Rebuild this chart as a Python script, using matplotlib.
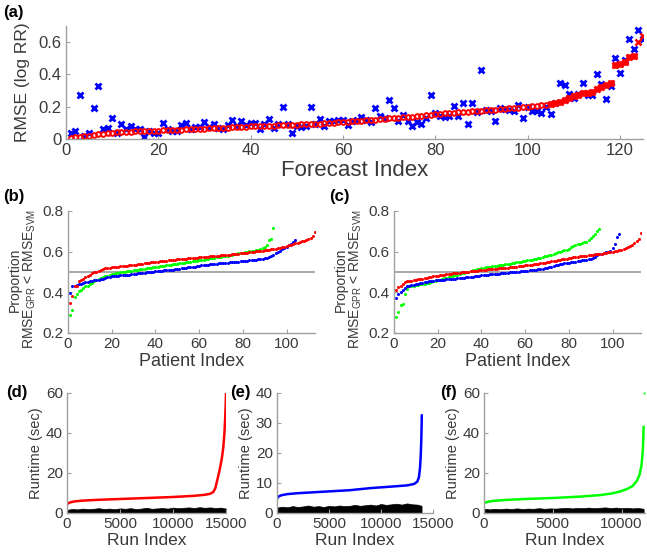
import matplotlib
matplotlib.use('Agg')
import matplotlib.pyplot as plt
import numpy as np

plt.rcParams['font.family'] = ['Liberation Sans', 'DejaVu Sans']
plt.rcParams['mathtext.default'] = 'regular'

# ---- panel (a): sorted RMSE per forecast ----
rmse_red = [0.005, 0.010, 0.013, 0.017, 0.020, 0.024, 0.028, 0.032, 0.036, 0.040,
            0.042, 0.044, 0.045, 0.046, 0.047, 0.048, 0.049, 0.050, 0.051, 0.052,
            0.054, 0.055, 0.056, 0.057, 0.058, 0.060, 0.061, 0.062, 0.063, 0.065,
            0.066, 0.067, 0.068, 0.069, 0.071, 0.072, 0.073, 0.074, 0.076, 0.078,
            0.079, 0.080, 0.081, 0.082, 0.083, 0.084, 0.085, 0.086, 0.088, 0.089,
            0.090, 0.091, 0.093, 0.094, 0.096, 0.097, 0.099, 0.101, 0.103, 0.105,
            0.107, 0.109, 0.111, 0.113, 0.115, 0.117, 0.120, 0.123, 0.126, 0.129,
            0.131, 0.133, 0.135, 0.137, 0.139, 0.141, 0.144, 0.147, 0.151, 0.155,
            0.157, 0.159, 0.161, 0.163, 0.166, 0.168, 0.170, 0.172, 0.174, 0.176,
            0.178, 0.180, 0.182, 0.184, 0.186, 0.189, 0.191, 0.194, 0.197, 0.200,
            0.203, 0.206, 0.209, 0.212, 0.216, 0.221, 0.228, 0.240, 0.255, 0.268,
            0.275, 0.282, 0.288, 0.293, 0.308, 0.320, 0.335, 0.345,
            0.460, 0.465, 0.475, 0.510, 0.515, 0.600, 0.635]
rmse_blue = [0.037, 0.050, 0.270, 0.020, 0.040, 0.190, 0.330, 0.060, 0.070, 0.130,
             0.040, 0.095, 0.060, 0.078, 0.060, 0.065, 0.010, 0.050, 0.035, 0.035,
             0.100, 0.060, 0.050, 0.050, 0.085, 0.100, 0.060, 0.075, 0.075, 0.105,
             0.075, 0.095, 0.070, 0.060, 0.085, 0.120, 0.080, 0.110, 0.085, 0.100,
             0.100, 0.065, 0.095, 0.125, 0.070, 0.090, 0.200, 0.090, 0.035, 0.080,
             0.075, 0.080, 0.200, 0.095, 0.125, 0.080, 0.110, 0.110, 0.115, 0.120,
             0.085, 0.110, 0.115, 0.135, 0.120, 0.105, 0.190, 0.140, 0.130, 0.240,
             0.195, 0.110, 0.150, 0.110, 0.080, 0.105, 0.095, 0.130, 0.270, 0.160,
             0.145, 0.135, 0.140, 0.205, 0.145, 0.220, 0.090, 0.220, 0.165, 0.430,
             0.180, 0.175, 0.110, 0.195, 0.185, 0.180, 0.175, 0.210, 0.130, 0.200,
             0.175, 0.175, 0.160, 0.200, 0.155, 0.220, 0.345, 0.335, 0.280, 0.255,
             0.280, 0.350, 0.270, 0.275, 0.400, 0.340, 0.250, 0.330, 0.500, 0.410,
             0.490, 0.620, 0.560, 0.675, 0.620]

# ---- panel (b) ----
b_red = [0.348, 0.384, 0.430, 0.432, 0.455, 0.462, 0.468, 0.475, 0.481, 0.487,
         0.493, 0.498, 0.502, 0.505, 0.510, 0.515, 0.518, 0.520, 0.522, 0.524,
         0.525, 0.526, 0.527, 0.528, 0.529, 0.530, 0.531, 0.532, 0.534, 0.535,
         0.536, 0.538, 0.539, 0.541, 0.542, 0.544, 0.545, 0.547, 0.548, 0.550,
         0.551, 0.552, 0.554, 0.555, 0.556, 0.557, 0.558, 0.559, 0.560, 0.562,
         0.563, 0.564, 0.565, 0.566, 0.567, 0.568, 0.569, 0.570, 0.571, 0.572,
         0.573, 0.574, 0.575, 0.576, 0.577, 0.578, 0.579, 0.580, 0.581, 0.582,
         0.583, 0.584, 0.585, 0.586, 0.587, 0.588, 0.589, 0.590, 0.591, 0.592,
         0.593, 0.595, 0.596, 0.598, 0.599, 0.601, 0.602, 0.604, 0.605, 0.607,
         0.608, 0.610, 0.611, 0.613, 0.615, 0.617, 0.620, 0.622, 0.625, 0.628,
         0.631, 0.635, 0.638, 0.641, 0.645, 0.648, 0.651, 0.654, 0.658, 0.662,
         0.666, 0.675, 0.695]
b_green = [0.290, 0.315, 0.377, 0.390, 0.405, 0.410, 0.420, 0.430, 0.432, 0.440,
           0.448, 0.455, 0.460, 0.465, 0.470, 0.474, 0.478, 0.482, 0.486, 0.490,
           0.492, 0.494, 0.496, 0.498, 0.500, 0.501, 0.503, 0.504, 0.506, 0.508,
           0.510, 0.511, 0.513, 0.515, 0.516, 0.518, 0.520, 0.521, 0.523, 0.525,
           0.526, 0.528, 0.529, 0.531, 0.532, 0.534, 0.535, 0.537, 0.538, 0.540,
           0.542, 0.544, 0.545, 0.547, 0.549, 0.551, 0.552, 0.554, 0.556, 0.558,
           0.560, 0.561, 0.563, 0.565, 0.567, 0.568, 0.570, 0.572, 0.573, 0.575,
           0.577, 0.579, 0.581, 0.583, 0.585, 0.587, 0.589, 0.591, 0.593, 0.595,
           0.597, 0.599, 0.601, 0.603, 0.605, 0.607, 0.609, 0.612, 0.618, 0.625,
           0.635, 0.655, 0.660, 0.715]
b_blue = [0.397, 0.430, 0.432, 0.435, 0.440, 0.443, 0.446, 0.449, 0.452, 0.455,
          0.457, 0.459, 0.461, 0.463, 0.465, 0.468, 0.470, 0.473, 0.476, 0.478,
          0.479, 0.480, 0.482, 0.483, 0.484, 0.485, 0.486, 0.487, 0.489, 0.490,
          0.491, 0.493, 0.494, 0.495, 0.496, 0.498, 0.499, 0.500, 0.502, 0.503,
          0.504, 0.505, 0.506, 0.508, 0.509, 0.510, 0.511, 0.512, 0.514, 0.515,
          0.517, 0.518, 0.520, 0.521, 0.523, 0.524, 0.526, 0.527, 0.529, 0.530,
          0.532, 0.533, 0.534, 0.535, 0.537, 0.538, 0.539, 0.540, 0.542, 0.543,
          0.544, 0.545, 0.546, 0.547, 0.548, 0.549, 0.550, 0.551, 0.552, 0.553,
          0.554, 0.556, 0.557, 0.558, 0.560, 0.561, 0.563, 0.564, 0.566, 0.568,
          0.570, 0.572, 0.578, 0.585, 0.595, 0.600, 0.605, 0.612, 0.618, 0.625,
          0.632, 0.640, 0.648, 0.655]

# ---- panel (c) ----
c_red = [0.410, 0.425, 0.430, 0.440, 0.450, 0.455, 0.457, 0.458, 0.460, 0.462,
         0.464, 0.466, 0.468, 0.470, 0.472, 0.474, 0.476, 0.478, 0.480, 0.482,
         0.484, 0.485, 0.487, 0.488, 0.490, 0.491, 0.493, 0.494, 0.496, 0.497,
         0.498, 0.499, 0.501, 0.502, 0.503, 0.504, 0.505, 0.507, 0.508, 0.510,
         0.511, 0.512, 0.513, 0.514, 0.515, 0.516, 0.517, 0.518, 0.519, 0.520,
         0.521, 0.522, 0.524, 0.525, 0.526, 0.527, 0.528, 0.529, 0.531, 0.532,
         0.533, 0.535, 0.536, 0.537, 0.539, 0.540, 0.542, 0.544, 0.546, 0.548,
         0.550, 0.552, 0.554, 0.556, 0.558, 0.560, 0.562, 0.564, 0.566, 0.568,
         0.570, 0.572, 0.573, 0.575, 0.577, 0.578, 0.580, 0.581, 0.583, 0.585,
         0.586, 0.587, 0.588, 0.589, 0.590, 0.592, 0.594, 0.596, 0.598, 0.600,
         0.602, 0.604, 0.606, 0.608, 0.612, 0.617, 0.622, 0.628, 0.635, 0.645,
         0.652, 0.660, 0.690]
c_green = [0.280, 0.305, 0.340, 0.342, 0.390, 0.415, 0.430, 0.432, 0.433, 0.435,
           0.437, 0.439, 0.441, 0.443, 0.445, 0.448, 0.451, 0.454, 0.457, 0.460,
           0.463, 0.466, 0.469, 0.472, 0.475, 0.478, 0.481, 0.484, 0.487, 0.490,
           0.493, 0.496, 0.499, 0.502, 0.505, 0.508, 0.511, 0.514, 0.517, 0.520,
           0.522, 0.523, 0.525, 0.526, 0.528, 0.529, 0.530, 0.532, 0.533, 0.535,
           0.537, 0.539, 0.541, 0.543, 0.545, 0.547, 0.549, 0.551, 0.553, 0.555,
           0.557, 0.559, 0.561, 0.563, 0.565, 0.567, 0.570, 0.573, 0.577, 0.580,
           0.583, 0.586, 0.590, 0.593, 0.597, 0.600, 0.603, 0.606, 0.610, 0.615,
           0.622, 0.630, 0.633, 0.636, 0.640, 0.643, 0.646, 0.650, 0.658, 0.665,
           0.675, 0.688, 0.700, 0.710]
c_blue = [0.370, 0.390, 0.400, 0.410, 0.420, 0.430, 0.433, 0.435, 0.438, 0.440,
          0.442, 0.445, 0.447, 0.450, 0.452, 0.454, 0.456, 0.457, 0.459, 0.460,
          0.461, 0.462, 0.463, 0.464, 0.465, 0.466, 0.467, 0.468, 0.469, 0.470,
          0.471, 0.472, 0.474, 0.475, 0.476, 0.477, 0.479, 0.480, 0.481, 0.483,
          0.484, 0.485, 0.486, 0.488, 0.489, 0.490, 0.491, 0.492, 0.494, 0.495,
          0.496, 0.497, 0.498, 0.499, 0.500, 0.501, 0.502, 0.503, 0.504, 0.505,
          0.507, 0.508, 0.510, 0.511, 0.512, 0.514, 0.515, 0.516, 0.518, 0.520,
          0.523, 0.527, 0.531, 0.534, 0.536, 0.538, 0.540, 0.542, 0.543, 0.545,
          0.547, 0.549, 0.551, 0.553, 0.555, 0.557, 0.559, 0.561, 0.563, 0.566,
          0.570, 0.575, 0.583, 0.588, 0.590, 0.592, 0.596, 0.600, 0.605, 0.618,
          0.640, 0.672, 0.685]

# ---- panels (d)-(f): sorted runtimes ----
d_run = [0, 100, 300, 700, 1500, 3000, 5000, 7500, 10000, 12000, 13000, 13500,
         13800, 14000, 14200, 14400, 14600, 14750, 14850, 14920, 14970, 15000]
d_rt = [4.3, 4.8, 5.3, 5.8, 6.2, 6.6, 7.0, 7.5, 8.0, 8.6, 9.1, 9.6,
        10.5, 12.5, 17, 21.5, 27, 33, 40, 47, 54, 60]
e_run = [0, 100, 400, 1000, 2000, 3500, 5000, 7000, 9000, 11000, 12500, 13200,
         13500, 13650, 13750, 13820, 13870, 13900, 13920]
e_rt = [4.8, 5.4, 5.9, 6.3, 6.6, 6.9, 7.2, 7.6, 8.3, 8.8, 9.2, 9.7,
        10.5, 12, 15, 19, 24, 28, 32.5]
f_run = [0, 200, 600, 1500, 3000, 5000, 7000, 8500, 9300, 9900, 10400, 10800,
         11100, 11300, 11450, 11550, 11600]
f_rt = [4.8, 5.5, 6.0, 6.5, 7.0, 7.5, 8.2, 9.0, 9.8, 10.8, 12.0, 13.5,
        16, 19, 24, 32, 43]
f_stray_run = [11600]
f_stray_rt = [60]

# black cloud of the other runtimes, top edge
d_cloud_x = [0, 500, 1000, 1500, 2000, 2500, 3000, 3500, 4000, 4500, 5000, 5500,
             6000, 6500, 7000, 7500, 8000, 8500, 9000, 9500, 10000, 10500, 11000,
             11500, 12000, 12500, 13000, 13500, 14000, 14500, 15000]
d_cloud_top = [1.6, 2.0, 1.8, 2.2, 1.9, 2.1, 2.4, 2.0, 2.2, 1.9, 2.3, 2.1,
               2.4, 2.0, 2.2, 2.6, 2.1, 2.3, 2.5, 2.2, 2.7, 2.4, 2.6, 2.8,
               2.5, 2.9, 2.6, 2.8, 2.5, 2.7, 2.2]
e_cloud_x = [0, 500, 1000, 1500, 2000, 2500, 3000, 3500, 4000, 4500, 5000, 5500,
             6000, 6500, 7000, 7500, 8000, 8500, 9000, 9500, 10000, 10500, 11000,
             11500, 12000, 12500, 13000, 13500, 13900]
e_cloud_top = [1.8, 2.1, 1.9, 2.3, 2.0, 2.2, 2.5, 2.1, 2.3, 2.0, 2.4, 2.2,
               2.5, 2.3, 2.4, 2.7, 2.4, 2.6, 2.8, 2.5, 3.0, 2.7, 2.9, 3.1,
               2.8, 3.2, 2.9, 2.8, 2.4]
f_cloud_x = [0, 400, 800, 1200, 1600, 2000, 2400, 2800, 3200, 3600, 4000, 4400,
             4800, 5200, 5600, 6000, 6400, 6800, 7200, 7600, 8000, 8400, 8800,
             9200, 9600, 10000, 10400, 10800, 11200, 11600]
f_cloud_top = [2.2, 1.8, 2.1, 1.9, 2.2, 2.0, 2.3, 2.0, 2.2, 2.1, 2.4, 2.1,
               2.3, 2.2, 2.4, 2.6, 2.3, 2.5, 2.4, 2.7, 2.4, 2.6, 2.8, 2.5,
               2.7, 2.4, 2.6, 2.3, 2.5, 2.1]

W, H = 647, 553
fig = plt.figure(figsize=(W / 100, H / 100), dpi=100)

spine_c = '#a0a0a0'
text_c = '#3a3a3a'


def style(ax, fs):
    for s in ['top', 'right']:
        ax.spines[s].set_visible(False)
    for s in ['left', 'bottom']:
        ax.spines[s].set_color(spine_c)
        ax.spines[s].set_linewidth(1)
    ax.tick_params(direction='in', length=3, color=spine_c,
                   labelcolor=text_c, labelsize=fs, pad=3)


def box(l, t, r, b):
    return [l / W, 1 - b / H, (r - l) / W, (b - t) / H]


# (a)
ax = fig.add_axes(box(66, 26, 643, 139))
idx = np.arange(1, len(rmse_red) + 1)
ax.plot(idx, rmse_blue, 'x', color='#0000ff', ms=4.5, mew=2)
ax.plot(idx[:123], rmse_red[:123], 'o', mfc='none', mec='#ff0000', ms=3.4, mew=1.4)
ax.plot(idx[104:], rmse_red[104:], 'x', color='#ff0000', ms=4, mew=1.8)
ax.set_xlim(0, 125)
ax.set_ylim(0, 0.7)
ax.set_xticks([0, 20, 40, 60, 80, 100, 120])
ax.set_yticks([0, 0.2, 0.4, 0.6])
ax.set_yticklabels(['0', '0.2', '0.4', '0.6'])
style(ax, 12)
ax.set_xlabel('Forecast Index', fontsize=16, color=text_c, labelpad=1)
ax.set_ylabel('RMSE (log RR)', fontsize=12.5, color=text_c, labelpad=6)

ylab = 'Proportion\nRMSE$_{GPR}$ < RMSE$_{SVM}$'

# (b) and (c)
for (l, r), reds, greens, blues in [((68, 315), b_red, b_green, b_blue),
                                    ((394, 641), c_red, c_green, c_blue)]:
    ax = fig.add_axes(box(l, 211, r, 333))
    ax.axhline(0.5, color='#999999', lw=1.2, zorder=1)
    ax.plot(np.arange(1, len(greens) + 1), greens, 'o', color='#00ff00', ms=2.2, mew=0)
    ax.plot(np.arange(1, len(blues) + 1), blues, 'o', color='#0000ff', ms=2.2, mew=0)
    ax.plot(np.arange(1, len(reds) + 1), reds, 'o', color='#ff0000', ms=2.2, mew=0)
    ax.set_xlim(0, 113)
    ax.set_ylim(0.2, 0.8)
    ax.set_xticks([0, 20, 40, 60, 80, 100])
    ax.set_yticks([0.2, 0.4, 0.6, 0.8])
    ax.set_yticklabels(['0.2', '0.4', '0.6', '0.8'])
    style(ax, 11)
    ax.set_xlabel('Patient Index', fontsize=13, color=text_c, labelpad=1)
    ax.set_ylabel(ylab, fontsize=10, color=text_c, linespacing=1.0)
    ax.yaxis.set_label_coords(-0.12, 0.44)

# (d), (e), (f)
bottom = [((67, 226), d_run, d_rt, d_cloud_x, d_cloud_top, '#ff0000', 15000, 60,
           [0, 20, 40, 60], [0, 5000, 10000, 15000]),
          ((277, 433), e_run, e_rt, e_cloud_x, e_cloud_top, '#0000ff', 15000, 40,
           [0, 10, 20, 30, 40], [0, 5000, 10000, 15000]),
          ((484, 645), f_run, f_rt, f_cloud_x, f_cloud_top, '#00ff00', 11700, 60,
           [0, 20, 40, 60], [0, 5000, 10000])]
for (l, r), run, rt, cx, ctop, col, xmax, ymax, yt, xt in bottom:
    ax = fig.add_axes(box(l, 393, r, 513))
    ax.fill_between(cx, 0, ctop, color='black', lw=0.5, edgecolor='black')
    ax.plot(run, rt, '-', color=col, lw=1.8)
    if col == '#00ff00':
        ax.plot(f_stray_run, f_stray_rt, 'o', color=col, ms=1.5, mew=0, clip_on=False)
    ax.set_xlim(0, xmax)
    ax.set_ylim(0, ymax)
    ax.set_xticks(xt)
    ax.set_yticks(yt)
    style(ax, 11)
    ax.set_xlabel('Run Index', fontsize=12.5, color=text_c, labelpad=1)
    ax.set_ylabel('Runtime (sec)', fontsize=10.5, color=text_c, labelpad=2)

for x, y, s in [(3, 12, '(a)'), (3, 196, '(b)'), (329, 196, '(c)'),
                (6, 392, '(d)'), (230, 392, '(e)'), (440, 392, '(f)')]:
    fig.text(x / W, 1 - y / H, s, fontsize=12, fontweight='bold',
             color='black', ha='left', va='center')

fig.savefig('out.png', dpi=100)
